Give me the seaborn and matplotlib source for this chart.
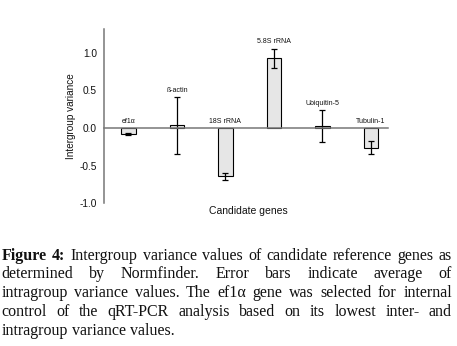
import matplotlib
matplotlib.use('Agg')
import matplotlib.pyplot as plt
import seaborn as sns
import pandas as pd

genes = ['ef1\u03b1', '\u00df-actin', '18S rRNA', '5.8S rRNA', 'Ubiquitin-5', 'Tubulin-1']
variance = [-0.08, 0.035, -0.645, 0.93, 0.03, -0.26]
intra_err = [0.015, 0.375, 0.045, 0.13, 0.21, 0.09]
yticks = [-1.0, -0.5, 0.0, 0.5, 1.0]

caption_lines = [
    ['Figure', '4:', 'Intergroup', 'variance', 'values', 'of', 'candidate', 'reference', 'genes', 'as'],
    ['determined', 'by', 'Normfinder.', 'Error', 'bars', 'indicate', 'average', 'of'],
    ['intragroup', 'variance', 'values.', 'The', 'ef1\u03b1', 'gene', 'was', 'selected', 'for', 'internal'],
    ['control', 'of', 'the', 'qRT-PCR', 'analysis', 'based', 'on', 'its', 'lowest', 'inter-', 'and'],
    ['intragroup', 'variance', 'values.'],
]

sns.set_style('white')
plt.rcParams['font.family'] = ['Liberation Sans', 'DejaVu Sans']

df = pd.DataFrame({'gene': genes, 'variance': variance})

W, H = 457, 346
fig = plt.figure(figsize=(W / 100, H / 100), dpi=100)
ax = fig.add_axes([104 / W, 1 - 203 / H, 284 / W, 174 / H])

sns.barplot(data=df, x='gene', y='variance', width=0.3, color='#e6e6e6',
            edgecolor='black', linewidth=0.8, saturation=1, ax=ax)
ax.errorbar(range(len(genes)), variance, yerr=intra_err, fmt='none',
            ecolor='black', elinewidth=0.9, capsize=2.5, capthick=0.9)

for i, (v, e) in enumerate(zip(variance, intra_err)):
    top = max(0, v + e)
    ax.annotate(genes[i], (i, top), xytext=(0, 2.5), textcoords='offset points',
                ha='center', va='bottom', fontsize=5, color='#111111')

ax.set_xlim(-0.5, 5.35)
ax.set_ylim(-1.0, 1.32)
ax.set_yticks(yticks)
ax.set_yticklabels([f'{t:.1f}' for t in yticks], fontsize=7.3, color='#111111')
ax.set_xticks([])
ax.tick_params(axis='y', length=0, pad=5)

for s in ['top', 'right']:
    ax.spines[s].set_visible(False)
ax.spines['bottom'].set_position(('data', 0))
for s in ['left', 'bottom']:
    ax.spines[s].set_color('#777777')
    ax.spines[s].set_linewidth(1.1)

ax.set_ylabel('Intergroup variance', fontsize=7.2, color='#111111', labelpad=3)
ax.set_xlabel('Candidate genes', fontsize=7.5, color='#111111')
ax.xaxis.set_label_coords(0.51, -0.02)

# justified caption below the chart
renderer = fig.canvas.get_renderer()
left, right = 1.5, 452.0
baselines = [259.5, 278.5, 297.0, 316.5, 335.0]
cap_size = 11.5
serif = ['Liberation Serif', 'DejaVu Serif']
w_ab = fig.text(0, 0, 'a b', fontsize=cap_size, family=serif)
w_nospace = fig.text(0, 0, 'ab', fontsize=cap_size, family=serif)
sp = w_ab.get_window_extent(renderer).width - w_nospace.get_window_extent(renderer).width
w_ab.remove()
w_nospace.remove()

for li, words in enumerate(caption_lines):
    texts = []
    for wi, w in enumerate(words):
        bold = li == 0 and wi < 2
        t = fig.text(0, 1 - baselines[li] / H, w, fontsize=cap_size, family=serif,
                     fontweight='bold' if bold else 'normal',
                     va='baseline', ha='left', color='#111111')
        texts.append(t)
    widths = [t.get_window_extent(renderer).width for t in texts]
    if li < len(caption_lines) - 1 and len(words) > 1:
        gap = (right - left - sum(widths)) / (len(words) - 1)
    else:
        gap = sp
    x = left
    for t, w in zip(texts, widths):
        t.set_x(x / W)
        x += w + gap

fig.savefig('out.png', dpi=100)
